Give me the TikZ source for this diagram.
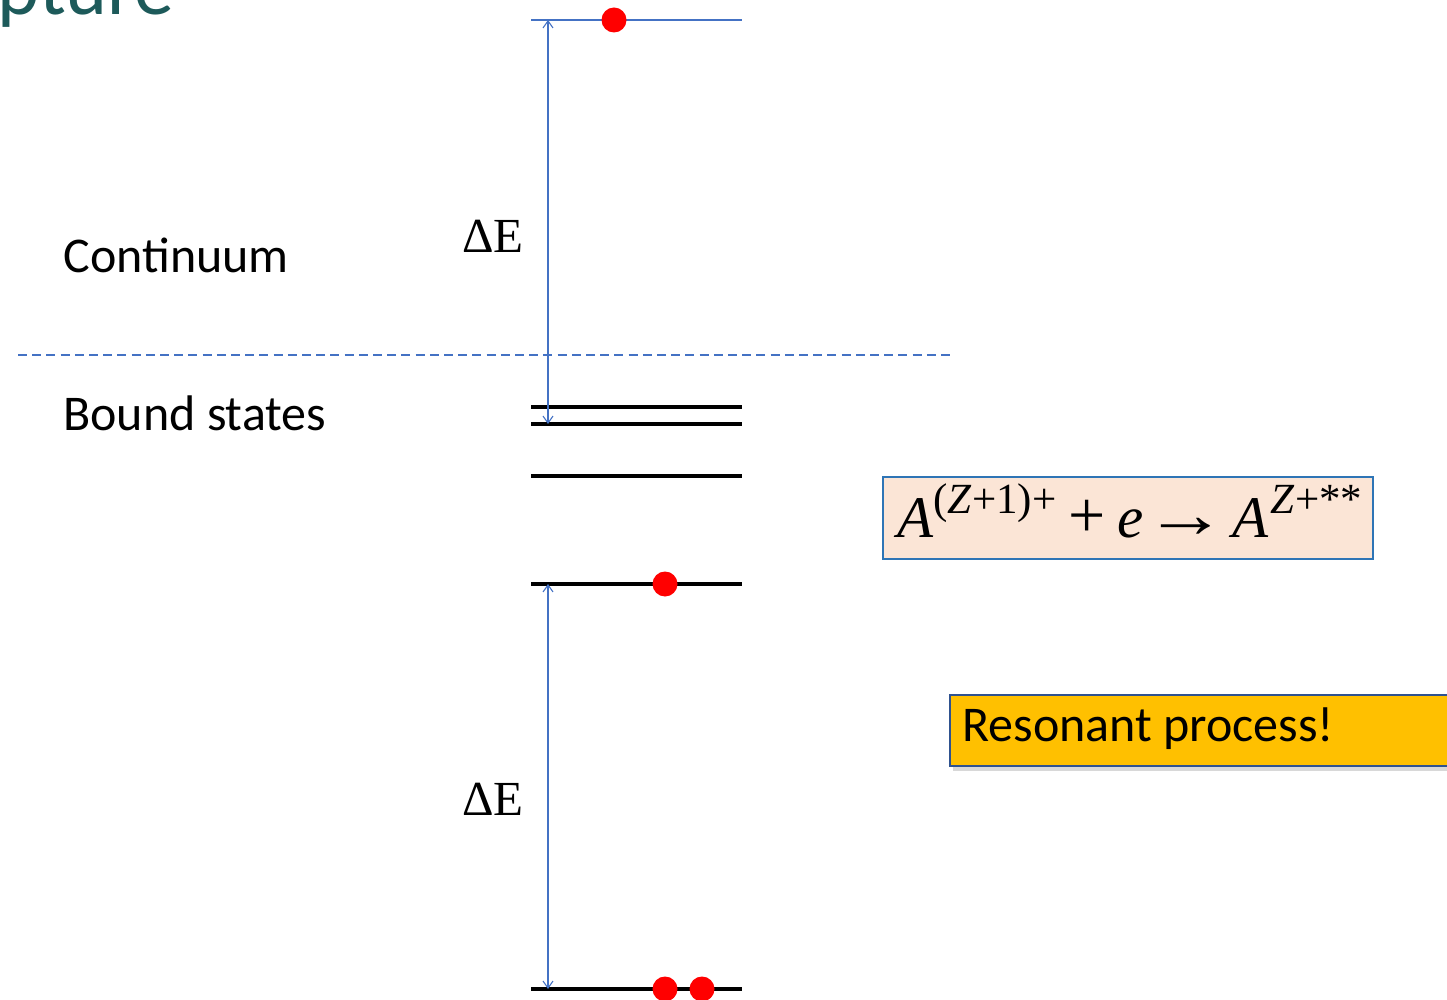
\documentclass[tikz,border=0pt]{standalone}
\usepackage{fontspec}
\setmainfont{Liberation Serif}
\newfontfamily\calfont{Carlito}
\usetikzlibrary{arrows.meta,shadows}
\definecolor{lineblue}{HTML}{4472C4}
\definecolor{peach}{HTML}{FBE5D6}
\definecolor{boxblue}{HTML}{2E75B6}
\definecolor{amber}{HTML}{FFC000}
\definecolor{darkedge}{HTML}{2F528F}
\definecolor{teal}{HTML}{1D5A5A}
\begin{document}
\begin{tikzpicture}[x=0.5pt,y=-0.5pt,
  level/.style={line width=1.75pt,black},
  toplevel/.style={line width=0.6pt,lineblue},
  gap/.style={lineblue,line width=0.55pt,{Straight Barb[length=3.5pt,width=5pt]}-{Straight Barb[length=3.5pt,width=5pt]}},
  electron/.style={circle,fill=red,inner sep=0pt,minimum size=12.5pt},
  label/.style={font=\calfont\fontsize{25}{30}\selectfont,anchor=west,inner sep=0pt},
  delta/.style={font=\fontsize{24.5}{29}\selectfont,inner sep=0pt}]
\useasboundingbox (0,0) rectangle (1447,1000);
\clip (0,0) rectangle (1447,1000);
% title fragment
\node[anchor=base west,inner sep=0pt,text=teal,font=\calfont\fontsize{40}{42}\selectfont] (title) at (-3,15) {pture};
% continuum threshold
\coordinate (dl) at (18,355);
\coordinate (dr) at (955,355);
\draw[lineblue,line width=0.6pt,dash pattern=on 4.5pt off 2.6pt] (dl) -- (dr);
% levels
\coordinate (t0) at (531,20); \coordinate (t1) at (742,20);
\draw[toplevel] (t0) -- (t1);
\coordinate (a0) at (531,407); \coordinate (a1) at (742,407);
\coordinate (b0) at (531,424); \coordinate (b1) at (742,424);
\coordinate (c0) at (531,476); \coordinate (c1) at (742,476);
\coordinate (d0) at (531,584); \coordinate (d1) at (742,584);
\coordinate (g0) at (531,989); \coordinate (g1) at (742,989);
\draw[level] (a0) -- (a1);
\draw[level] (b0) -- (b1);
\draw[level] (c0) -- (c1);
\draw[level] (d0) -- (d1);
\draw[level] (g0) -- (g1);
% arrows
\coordinate (u0) at (548,20); \coordinate (u1) at (548,424);
\coordinate (v0) at (548,584); \coordinate (v1) at (548,989);
\draw[gap] (u0) -- (u1);
\draw[gap] (v0) -- (v1);
\node[delta] (de1) at (493,236) {ΔE};
\node[delta] (de2) at (493,799) {ΔE};
% electrons
\node[electron] (e1) at (614,20) {};
\node[electron] (e2) at (665,584) {};
\node[electron] (e3) at (665,989) {};
\node[electron] (e4) at (702,989) {};
% labels
\node[label] (cont) at (63,255) {Continuum};
\node[label] (bound) at (63,413) {Bound states};
% formula box
\draw[fill=peach,draw=boxblue,line width=0.7pt] (883,477) rectangle (1373,559);
\node[inner sep=0pt,anchor=base west,font=\fontsize{29.5}{34}\selectfont] (formula) at (897,537)
  {\textit{A}\raisebox{0.40em}{\fontsize{21.5}{24}\selectfont (\textit{Z}+1)+}\hspace{6pt}{\fontsize{33}{34}\selectfont +}\hspace{6pt}\textit{e}\hspace{0.5pt}\scalebox{1.4}[1.15]{→}\hspace{2.5pt}\textit{A}\raisebox{0.40em}{\fontsize{21.5}{24}\selectfont\hspace{1pt}\textit{Z}+**}};
% resonant box
\fill[gray!60,opacity=0.5] (953,700) rectangle (1460,771);
\draw[fill=amber,draw=darkedge,line width=0.7pt] (950,695) rectangle (1460,766);
\node[label] (res) at (962,729) {Resonant process!};
\end{tikzpicture}
\end{document}
